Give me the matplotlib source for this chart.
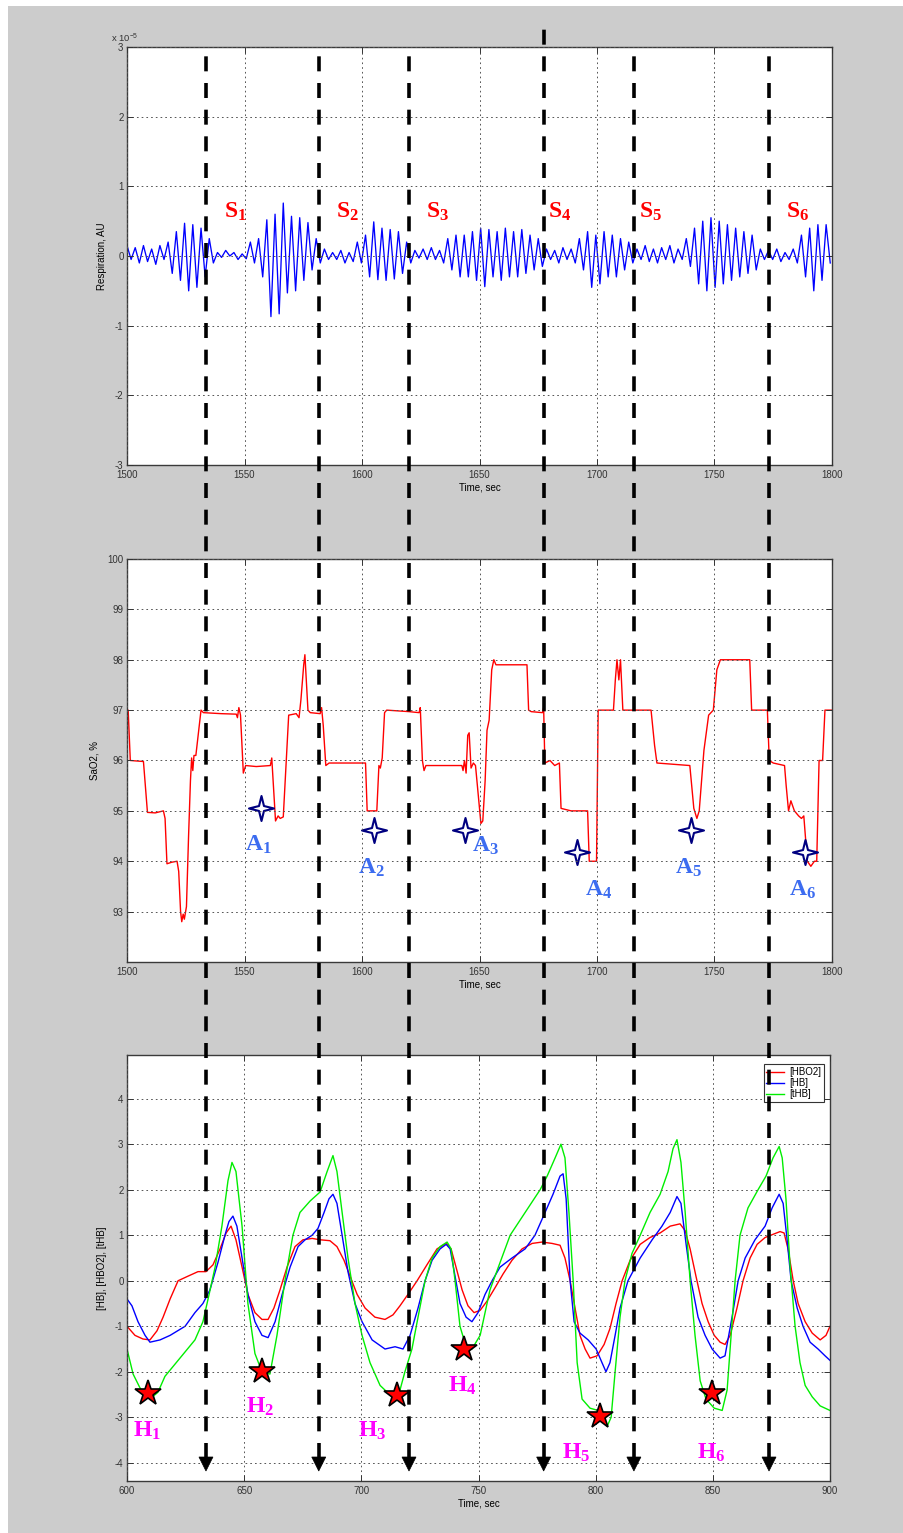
import numpy as np
import matplotlib
matplotlib.use("Agg")
import matplotlib.pyplot as plt
from matplotlib.lines import Line2D
from matplotlib.patches import Rectangle, Polygon
from matplotlib.path import Path

# ---------------- data ----------------
# Respiration: successive breathing extrema (x 1e-5 AU), one every 1.75 s from 1500 s
resp_start, resp_step = 1500.0, 1.75
resp_vals = [
    0.15, -0.05, 0.12, -0.1, 0.15, -0.08, 0.1, -0.12, 0.15, -0.05,
    0.2, -0.25, 0.35, -0.35, 0.47, -0.5, 0.45, -0.45, 0.4, -0.3,
    0.25, -0.1, 0.05, -0.02, 0.08, 0.0, 0.05, -0.05, 0.03, -0.04,
    0.2, -0.1, 0.25, -0.3, 0.52, -0.87, 0.6, -0.83, 0.76, -0.53, 0.57, -0.5, 0.55, -0.35, 0.48, -0.2, 0.25, -0.1,
    0.1, -0.05, 0.05, -0.05, 0.08, -0.1, 0.05, -0.08,
    0.2, -0.1, 0.3, -0.3, 0.49, -0.34, 0.4, -0.35, 0.38, -0.33, 0.35, -0.25, 0.2, -0.1,
    0.08, -0.03, 0.1, -0.05, 0.12, -0.05, 0.08, -0.1,
    0.25, -0.2, 0.3, -0.3, 0.3, -0.3, 0.35, -0.35, 0.4, -0.44, 0.38, -0.3, 0.35, -0.35, 0.4, -0.3, 0.35, -0.3, 0.38, -0.25, 0.3, -0.2, 0.25, -0.15,
    0.1, -0.05, 0.08, -0.1, 0.12, -0.05, 0.1, -0.1,
    0.25, -0.2, 0.35, -0.45, 0.3, -0.4, 0.35, -0.3, 0.3, -0.3, 0.25, -0.2, 0.2, -0.1,
    0.1, -0.05, 0.15, -0.08, 0.1, -0.1, 0.12, -0.05, 0.15, -0.1, 0.1, -0.05,
    0.25, -0.15, 0.4, -0.4, 0.5, -0.5, 0.55, -0.45, 0.5, -0.4, 0.45, -0.35, 0.4, -0.3, 0.35, -0.25, 0.3, -0.2,
    0.1, -0.05, 0.08, -0.05, 0.1, -0.08, 0.05, -0.05, 0.1, -0.1,
    0.3, -0.3, 0.4, -0.5, 0.45, -0.35, 0.45, -0.1,
]

# SaO2 (%) breakpoints
sao2_time = [
    1500.0, 1500.5, 1501.4, 1507.0, 1508.7, 1512.0, 1515.5, 1516.2, 1517.0, 1519.0,
    1521.3, 1522.0, 1522.8, 1523.3, 1523.9, 1524.4, 1525.3, 1526.2, 1527.0, 1527.5,
    1528.0, 1528.5, 1529.3, 1530.5, 1531.5, 1532.5, 1540.0, 1546.5, 1547.0, 1547.6,
    1548.3, 1549.5, 1550.5, 1555.0, 1561.0, 1561.6, 1562.3, 1563.2, 1564.3, 1565.2,
    1566.5, 1567.8, 1568.8, 1572.0, 1573.2, 1574.0, 1575.2, 1575.7, 1576.3, 1577.0,
    1578.0, 1582.2, 1582.8, 1583.5, 1584.6, 1586.0, 1601.5, 1602.2, 1606.3, 1607.2,
    1607.8, 1608.6, 1609.6, 1610.5, 1620.0, 1624.3, 1624.8, 1625.7, 1626.4, 1627.2,
    1642.5, 1643.0, 1643.6, 1644.3, 1645.0, 1645.6, 1646.4, 1647.4, 1648.3, 1649.3,
    1650.6, 1651.4, 1652.4, 1653.2, 1654.1, 1655.2, 1656.1, 1657.0, 1670.2, 1670.9,
    1672.0, 1676.8, 1677.3, 1677.8, 1680.0, 1682.0, 1684.0, 1684.7, 1689.0, 1696.0,
    1696.7, 1699.8, 1700.5, 1707.0, 1707.8, 1708.5, 1709.3, 1710.0, 1711.0, 1723.0,
    1724.5, 1725.5, 1739.5, 1741.2, 1742.5, 1743.5, 1745.5, 1747.5, 1749.5, 1751.0,
    1752.5, 1765.0, 1765.8, 1772.5, 1773.3, 1775.0, 1779.8, 1780.5, 1781.5, 1782.5,
    1784.0, 1785.8, 1787.0, 1788.0, 1789.5, 1791.0, 1792.5, 1793.5, 1794.5, 1796.0,
    1797.0, 1800.0,
]
sao2_vals = [
    97.0, 97.0, 96.0, 95.98, 94.97, 94.96, 95.0, 94.85, 93.95, 93.98,
    94.0, 93.8, 93.0, 92.8, 92.95, 92.85, 93.1, 94.5, 95.6, 96.05,
    95.8, 96.1, 96.1, 96.6, 97.0, 96.95, 96.93, 96.92, 96.85, 97.05,
    96.9, 95.75, 95.9, 95.88, 95.9, 96.05, 95.5, 94.8, 94.9, 94.85,
    94.88, 96.0, 96.9, 96.93, 96.85, 97.2, 97.9, 98.1, 97.6, 97.0,
    96.95, 96.93, 97.05, 96.7, 95.9, 95.95, 95.95, 95.0, 95.0, 95.9,
    95.85, 96.05, 96.95, 97.0, 96.97, 96.95, 97.05, 96.0, 95.8, 95.9,
    95.9, 95.8, 96.0, 95.75, 96.5, 96.55, 95.85, 95.95, 95.9, 95.4,
    94.75, 94.8, 95.6, 96.6, 96.8, 97.8, 98.0, 97.9, 97.9, 97.0,
    96.97, 96.95, 97.05, 95.95, 96.0, 95.9, 95.95, 95.05, 95.0, 95.0,
    94.0, 94.0, 97.0, 97.0, 97.6, 98.0, 97.6, 98.0, 97.0, 97.0,
    96.3, 95.95, 95.9, 95.05, 94.85, 95.0, 96.2, 96.9, 97.0, 97.8,
    98.0, 98.0, 97.0, 97.0, 96.0, 95.95, 95.9, 95.5, 95.0, 95.2,
    95.0, 94.9, 94.85, 94.9, 94.0, 93.9, 94.0, 94.0, 96.0, 96.0,
    97.0, 97.0,
]

# Haemoglobin concentrations (a.u.)
hbo2_time = [
    600.0, 603.4, 606.8, 609.8, 612.8, 615.4, 618.4, 621.8, 626.0, 630.3,
    633.7, 636.7, 639.7, 642.3, 644.4, 646.5, 649.1, 651.6, 654.6, 657.6,
    660.2, 662.7, 665.3, 668.3, 671.7, 675.1, 679.0, 682.4, 686.6, 689.6,
    692.6, 695.2, 698.2, 701.6, 705.8, 710.1, 713.5, 716.5, 719.9, 723.8,
    728.0, 732.3, 736.2, 738.3, 740.4, 743.0, 745.5, 748.1, 750.7, 753.6,
    757.1, 760.5, 764.3, 768.6, 772.9, 777.1, 781.4, 784.8, 786.9, 789.1,
    791.2, 793.3, 795.5, 797.6, 800.6, 803.6, 806.1, 808.7, 811.3, 814.7,
    819.0, 823.2, 827.5, 831.8, 836.0, 838.2, 840.3, 842.8, 845.4, 848.0,
    850.6, 853.1, 855.2, 857.4, 860.3, 862.9, 865.9, 868.9, 872.3, 875.7,
    878.7, 880.4, 882.1, 884.3, 886.4, 889.4, 892.4, 895.8, 898.3, 900.0,
]
hbo2_vals = [
    -1.0, -1.2, -1.28, -1.3, -1.1, -0.8, -0.4, 0.0, 0.1, 0.2,
    0.2, 0.35, 0.7, 1.05, 1.2, 0.9, 0.3, -0.3, -0.7, -0.85,
    -0.85, -0.6, -0.2, 0.3, 0.75, 0.9, 0.93, 0.9, 0.88, 0.75,
    0.45, 0.1, -0.3, -0.6, -0.8, -0.85, -0.75, -0.55, -0.3, 0.0,
    0.35, 0.7, 0.82, 0.7, 0.3, -0.2, -0.55, -0.7, -0.65, -0.45,
    -0.15, 0.15, 0.45, 0.7, 0.82, 0.85, 0.82, 0.78, 0.5, 0.0,
    -0.6, -1.2, -1.5, -1.7, -1.65, -1.4, -1.05, -0.5, 0.0, 0.45,
    0.8, 0.95, 1.05, 1.2, 1.25, 1.1, 0.7, 0.1, -0.5, -0.9,
    -1.2, -1.35, -1.4, -1.2, -0.6, 0.0, 0.5, 0.8, 0.95, 1.02,
    1.08, 1.05, 0.7, 0.0, -0.5, -0.9, -1.15, -1.3, -1.2, -1.0,
]
hb_time = [
    600.0, 602.1, 604.7, 607.7, 609.8, 614.1, 618.4, 624.8, 629.0, 632.4,
    635.4, 638.8, 641.8, 643.5, 645.2, 646.9, 649.1, 651.6, 654.6, 657.6,
    660.2, 663.2, 666.2, 669.6, 673.0, 676.0, 679.0, 681.5, 684.1, 686.2,
    687.9, 689.6, 691.8, 694.3, 697.3, 700.3, 704.6, 710.1, 714.4, 717.8,
    720.8, 724.2, 727.2, 730.2, 733.6, 736.2, 737.9, 740.0, 742.1, 744.7,
    747.2, 749.8, 752.8, 755.8, 759.2, 764.3, 769.9, 774.1, 778.4, 781.8,
    784.8, 786.1, 787.4, 789.1, 790.8, 793.3, 796.8, 800.2, 802.7, 804.4,
    806.1, 808.3, 810.4, 813.8, 819.0, 824.1, 828.3, 831.8, 834.7, 836.4,
    838.6, 840.7, 843.7, 846.7, 849.7, 853.1, 855.2, 858.2, 860.8, 863.8,
    868.0, 872.3, 875.3, 878.3, 880.0, 881.7, 883.4, 886.0, 888.5, 891.5,
    894.9, 897.9, 900.0,
]
hb_vals = [
    -0.4, -0.55, -0.9, -1.2, -1.35, -1.3, -1.2, -1.0, -0.7, -0.5,
    -0.2, 0.4, 1.0, 1.3, 1.42, 1.2, 0.5, -0.3, -0.9, -1.2,
    -1.25, -0.9, -0.3, 0.3, 0.75, 0.9, 1.0, 1.15, 1.5, 1.8,
    1.9, 1.7, 1.0, 0.2, -0.5, -0.9, -1.3, -1.5, -1.45, -1.5,
    -1.2, -0.6, 0.0, 0.45, 0.7, 0.8, 0.7, 0.1, -0.5, -0.8,
    -0.9, -0.7, -0.3, 0.0, 0.3, 0.5, 0.7, 1.0, 1.5, 1.9,
    2.3, 2.35, 1.8, 0.0, -0.9, -1.15, -1.3, -1.5, -1.8, -2.0,
    -1.8, -1.2, -0.6, 0.0, 0.5, 0.9, 1.2, 1.5, 1.85, 1.7,
    0.8, 0.0, -0.8, -1.2, -1.5, -1.7, -1.65, -0.8, 0.0, 0.5,
    0.9, 1.2, 1.6, 1.9, 1.7, 0.9, 0.0, -0.6, -1.0, -1.35,
    -1.5, -1.65, -1.75,
]
thb_time = [
    600.0, 602.6, 605.5, 607.7, 609.8, 613.2, 616.2, 622.6, 629.0, 632.4,
    634.6, 637.6, 640.5, 643.1, 644.8, 646.5, 649.1, 651.6, 654.6, 657.6,
    661.0, 664.0, 667.4, 670.8, 673.8, 678.1, 682.4, 685.4, 687.9, 689.6,
    691.8, 694.3, 697.3, 700.3, 703.7, 708.0, 713.1, 716.5, 718.6, 721.6,
    724.2, 727.2, 730.2, 733.6, 736.6, 738.3, 740.0, 742.1, 744.7, 747.2,
    750.7, 754.9, 759.2, 763.5, 769.9, 776.3, 779.3, 782.7, 785.2, 786.9,
    788.6, 790.4, 792.1, 794.2, 797.6, 801.0, 802.7, 804.9, 806.6, 808.3,
    810.4, 812.5, 815.5, 819.0, 823.2, 827.5, 830.9, 833.0, 834.7, 836.4,
    838.2, 840.3, 842.4, 844.6, 847.1, 850.6, 854.0, 856.1, 857.8, 859.5,
    861.6, 865.0, 869.3, 872.7, 875.7, 878.3, 879.6, 881.2, 883.0, 885.1,
    887.2, 889.4, 892.4, 895.8, 900.0,
]
thb_vals = [
    -1.5, -2.05, -2.35, -2.5, -2.6, -2.45, -2.1, -1.7, -1.3, -0.9,
    -0.4, 0.3, 1.2, 2.2, 2.6, 2.4, 1.2, -0.5, -1.6, -2.0,
    -2.05, -1.2, 0.0, 1.0, 1.5, 1.75, 1.95, 2.4, 2.75, 2.4,
    1.5, 0.5, -0.5, -1.2, -1.8, -2.3, -2.55, -2.4, -2.0, -1.5,
    -0.8, 0.0, 0.5, 0.75, 0.85, 0.7, 0.0, -1.0, -1.45, -1.5,
    -1.2, -0.2, 0.4, 1.0, 1.5, 2.0, 2.3, 2.7, 3.0, 2.7,
    1.5, 0.0, -1.8, -2.6, -2.8, -2.85, -3.05, -3.2, -3.0, -2.0,
    -0.8, 0.0, 0.6, 1.0, 1.5, 1.9, 2.4, 2.9, 3.1, 2.6,
    1.5, 0.0, -1.2, -2.2, -2.6, -2.8, -2.85, -2.4, -1.2, 0.0,
    1.0, 1.6, 2.0, 2.3, 2.7, 2.95, 2.7, 1.8, 0.3, -1.0,
    -1.8, -2.3, -2.55, -2.75, -2.85,
]

# Breathing-segment boundaries (s, respiration clock)
segment_bounds = [1533.6, 1581.6, 1620.0, 1677.3, 1715.7, 1773.2]
segment_labels = ["S_1", "S_2", "S_3", "S_4", "S_5", "S_6"]
segment_label_t = [1546.0, 1594.0, 1632.3, 1684.3, 1722.6, 1785.5]

# Apnoea markers on SaO2
apnea_t = [1557.0, 1605.1, 1643.8, 1691.5, 1740.0, 1788.5]
apnea_v = [95.06, 94.62, 94.62, 94.19, 94.62, 94.19]
apnea_labels = ["A_1", "A_2", "A_3", "A_4", "A_5", "A_6"]
apnea_label_t = [1556.0, 1604.0, 1652.5, 1700.5, 1739.0, 1787.5]
apnea_label_v = [94.32, 93.87, 94.3, 93.44, 93.87, 93.44]

# Haemodynamic minima
hmin_t = [609.0, 657.6, 715.2, 743.8, 801.9, 849.7]
hmin_v = [-2.47, -1.99, -2.5, -1.5, -2.98, -2.47]
hmin_labels = ["H_1", "H_2", "H_3", "H_4", "H_5", "H_6"]
hmin_label_t = [608.5, 656.8, 704.6, 743.0, 791.6, 849.2]
hmin_label_v = [-3.3, -2.78, -3.3, -2.3, -3.79, -3.79]

# ---------------- style ----------------
plt.rcParams.update({
    "font.family": ["Liberation Sans", "DejaVu Sans"],
    "mathtext.fontset": "custom",
    "mathtext.rm": "Liberation Sans",
    "mathtext.it": "Liberation Sans:italic",
    "mathtext.bf": "Liberation Serif:bold",
    "lines.scale_dashes": False,
    "axes.unicode_minus": False,
})

W_PX, H_PX = 904, 1533
fig = plt.figure(figsize=(W_PX / 100, H_PX / 100), dpi=100)
fig.patch.set_facecolor("white")
fig.add_artist(Rectangle((8 / W_PX, 0), 1 - 8 / W_PX, 1 - 6 / H_PX,
                         transform=fig.transFigure, facecolor="#cccccc",
                         edgecolor="none", zorder=-5))

TICK_FS = 7
GRID_KW = dict(color="#555555", linestyle=(0, (1.2, 2.2)), linewidth=0.7)


def style_axes(ax):
    ax.set_facecolor("white")
    for s in ax.spines.values():
        s.set_color("#3a3a3a")
        s.set_linewidth(1.0)
    ax.tick_params(direction="in", top=True, right=True, length=4,
                   width=0.7, labelsize=TICK_FS, colors="#333333")
    ax.tick_params(axis="x", pad=3.5)
    ax.tick_params(axis="y", pad=2.5)
    ax.grid(True, **GRID_KW)
    ax.set_axisbelow(False)


# --- respiration ---
ax1 = fig.add_axes([127 / W_PX, 1 - 465 / H_PX, 705 / W_PX, 418 / H_PX])
resp_time = resp_start + resp_step * np.arange(len(resp_vals))
ax1.plot(resp_time, resp_vals, color="#0000ff", lw=0.95)
ax1.set_xlim(1500, 1800)
ax1.set_ylim(-3, 3)
ax1.set_xticks(np.arange(1500, 1801, 50))
ax1.set_yticks(np.arange(-3, 4, 1))
style_axes(ax1)
ax1.set_xlabel("Time, sec", fontsize=7, labelpad=2)
ax1.set_ylabel("Respiration, AU", fontsize=7, labelpad=6)
ax1.text(-0.022, 1.005, r"x 10$^{-5}$", transform=ax1.transAxes,
         fontsize=6.8, ha="left", va="bottom", color="#333333")
for lab, t in zip(segment_labels, segment_label_t):
    ax1.text(t, 0.63, r"$\mathbf{%s}$" % lab, color="#ff0000", fontsize=17,
             ha="center", va="center")

# --- SaO2 ---
ax2 = fig.add_axes([127 / W_PX, 1 - 962 / H_PX, 705 / W_PX, 403 / H_PX])
ax2.plot(sao2_time, sao2_vals, color="#ff0000", lw=1.0)
ax2.set_xlim(1500, 1800)
ax2.set_ylim(92, 100)
ax2.set_xticks(np.arange(1500, 1801, 50))
ax2.set_yticks(np.arange(93, 101, 1))
style_axes(ax2)
ax2.set_xlabel("Time, sec", fontsize=7, labelpad=2)
ax2.set_ylabel("SaO2, %", fontsize=7, labelpad=6)
star4 = Path.unit_regular_star(4, innerCircle=0.28)
ax2.plot(apnea_t, apnea_v, linestyle="none", marker=star4, markersize=18,
         markerfacecolor="white", markeredgecolor="#000080", markeredgewidth=1.5)
for lab, t, v in zip(apnea_labels, apnea_label_t, apnea_label_v):
    ax2.text(t, v, r"$\mathbf{%s}$" % lab, color="#3c6cf0", fontsize=17,
             ha="center", va="center")

# --- haemoglobin ---
ax3 = fig.add_axes([127 / W_PX, 1 - 1481 / H_PX, 703 / W_PX, 426 / H_PX])
l_red, = ax3.plot(hbo2_time, hbo2_vals, color="#ff0000", lw=1.0, label="[HBO2]")
l_blue, = ax3.plot(hb_time, hb_vals, color="#0000ff", lw=1.0, label="[HB]")
l_green, = ax3.plot(thb_time, thb_vals, color="#00ee00", lw=1.0, label="[tHB]")
ax3.set_xlim(600, 900)
ax3.set_ylim(-4.4, 4.96)
ax3.set_xticks(np.arange(600, 901, 50))
ax3.set_yticks(np.arange(-4, 5, 1))
style_axes(ax3)
ax3.set_xlabel("Time, sec", fontsize=7, labelpad=2)
ax3.set_ylabel("[HB], [HBO2], [tHB]", fontsize=7, labelpad=6)
ax3.plot(hmin_t, hmin_v, linestyle="none", marker="*", markersize=19,
         markerfacecolor="#ff0000", markeredgecolor="black", markeredgewidth=1.2,
         zorder=5)
for lab, t, v in zip(hmin_labels, hmin_label_t, hmin_label_v):
    ax3.text(t, v, r"$\mathbf{%s}$" % lab, color="#ff00ff", fontsize=17,
             ha="center", va="center")
leg = ax3.legend(handles=[l_red, l_blue, l_green], loc="upper right",
                 bbox_to_anchor=(0.998, 0.99), fontsize=7, handlelength=1.8,
                 handletextpad=0.5, borderpad=0.3, labelspacing=0.1,
                 fancybox=False, framealpha=1, edgecolor="#333333")
leg.get_frame().set_linewidth(0.8)

# --- dashed arrows linking the breathing segments across the panels ---
ov = fig.add_axes([0, 0, 1, 1], zorder=20)
ov.set_xlim(0, W_PX)
ov.set_ylim(H_PX, 0)
ov.axis("off")
ov.patch.set_alpha(0)

top_px = H_PX - ax1.transAxes.transform((0, 1))[1]
bot_px = H_PX - ax3.transAxes.transform((0, 0))[1]
start_offsets = [4, 4, 0, -19, 4, 4]
tip_px = bot_px - 10
head_h, head_w = 14, 7
for t, off in zip(segment_bounds, start_offsets):
    x = ax1.transData.transform((t, 0))[0]
    # drawn upward from the arrowhead so a dash always meets the head
    ov.add_line(Line2D([x, x], [tip_px - head_h + 1, top_px + off],
                       color="black", lw=2.6, linestyle=(0, (10.8, 8.4)),
                       solid_capstyle="butt", dash_capstyle="butt"))
    ov.add_patch(Polygon([[x - head_w, tip_px - head_h], [x + head_w, tip_px - head_h],
                          [x, tip_px]], closed=True, facecolor="black",
                         edgecolor="black", lw=0.5))

fig.savefig("out.png", dpi=100)
